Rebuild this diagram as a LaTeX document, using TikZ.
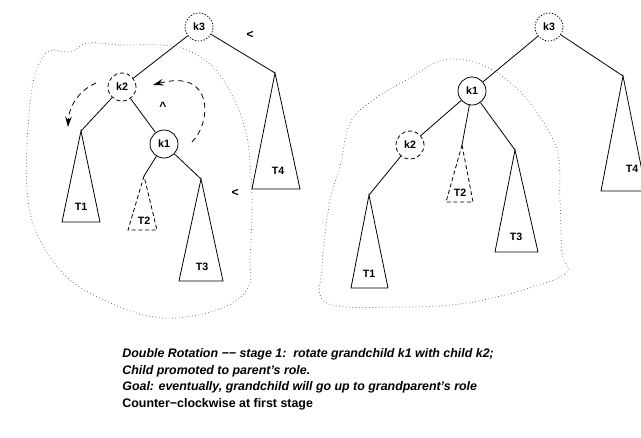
\documentclass[tikz,border=0pt]{standalone}
\usepackage{fontspec}
\setmainfont{Liberation Sans}
\usetikzlibrary{arrows.meta}
\begin{document}
\begin{tikzpicture}[x=0.75pt,y=-0.75pt,
  line width=0.6pt,
  every node/.style={font=\bfseries\fontsize{8}{9.5}\selectfont},
  keynode/.style={circle,draw,minimum size=21pt,inner sep=0pt},
  dottedkey/.style={keynode,dash pattern=on 1pt off 1.2pt},
  dashedkey/.style={keynode,dash pattern=on 3pt off 2pt},
  solidkey/.style={keynode},
  subtree/.style={draw,line join=miter},
  hollowtree/.style={draw,dash pattern=on 3pt off 2pt},
  region/.style={draw=black!70,dotted,line width=0.5pt},
  turn/.style={draw,dash pattern=on 4pt off 3pt,-{Stealth[length=8pt,width=5pt,inset=3pt]}},
  ordersign/.style={font=\bfseries\fontsize{9}{10}\selectfont},
  caption/.style={anchor=west,inner sep=0pt,font=\bfseries\itshape\fontsize{9.3}{11}\selectfont},
]
\useasboundingbox (0,0) rectangle (641,437);

% ---------- before the rotation ----------
\draw[region] plot[smooth cycle,tension=0.6] coordinates {
  (88,43) (120,45) (160,45) (187,50) (213,67) (233,97) (247,137)
  (252,200) (250,260) (250,283) (237,300) (207,313) (163,318)
  (120,307) (70,280) (40,240) (28,200) (27,143) (33,83) (43,57)
  (53,50) (70,52)};

\node[dottedkey] (k3a) at (199,27) {k3};
\node[dashedkey] (k2a) at (122,87) {k2};
\node[solidkey]  (k1a) at (164,144) {k1};

\coordinate (t1a) at (81,131);
\coordinate (t2a) at (144,176);
\coordinate (t3a) at (201,179);
\coordinate (t4a) at (275,73);

\draw[subtree] (t1a) -- (62,222) -- (100,222) -- cycle;
\draw[hollowtree] (t2a) -- (128,230) -- (157,230) -- cycle;
\draw[subtree] (t3a) -- (179,281) -- (223,281) -- cycle;
\draw[subtree] (t4a) -- (252,189) -- (300,189) -- cycle;

\node (T1a) at (81,207) {T1};
\node (T2a) at (144,221) {T2};
\node (T3a) at (202,267) {T3};
\node (T4a) at (278,171) {T4};

\draw (k3a) -- (k2a);
\draw (k3a) -- (t4a);
\draw (k2a) -- (t1a);
\draw (k2a) -- (k1a);
\draw (k1a) -- (t2a);
\draw (k1a) -- (t3a);

\node[ordersign] (lt1) at (250,35) {<};
\node[ordersign] (lt2) at (235,193) {<};
\node[ordersign] (up)  at (163,106) {\textasciicircum};

\coordinate (ccwA) at (96,83);
\coordinate (ccwB) at (68,127);
\coordinate (ccwC) at (192,142);
\coordinate (ccwD) at (153,85);
\draw[turn] (ccwA) .. controls (80,90) and (69,105) .. (ccwB);
\draw[turn] (ccwC) .. controls (212,122) and (214,68) .. (ccwD);

% ---------- after the rotation ----------
\draw[region] plot[smooth cycle,tension=0.6] coordinates {
  (410,78) (443,60) (477,63) (507,80) (533,107) (557,150) (560,200)
  (562,253) (567,272) (533,287) (467,303) (400,307) (327,303)
  (322,267) (330,200) (340,167) (350,123) (373,100)};

\node[dottedkey] (k3b) at (549,27) {k3};
\node[solidkey]  (k1b) at (472,91) {k1};
\node[dashedkey] (k2b) at (410,145) {k2};

\coordinate (t1b) at (369,195);
\coordinate (t2b) at (462,145);
\coordinate (t3b) at (515,150);
\coordinate (t4b) at (623,76);

\draw[subtree] (t1b) -- (351,288) -- (388,288) -- cycle;
\draw[hollowtree] (t2b) -- (446,202) -- (473,202) -- cycle;
\draw[subtree] (t3b) -- (495,252) -- (538,252) -- cycle;
\draw[subtree] (t4b) -- (601,191) -- (646,191) -- cycle;

\node (T1b) at (369,274) {T1};
\node (T2b) at (460,193) {T2};
\node (T3b) at (516,237) {T3};
\node (T4b) at (632,169) {T4};

\draw (k3b) -- (k1b);
\draw (k3b) -- (t4b);
\draw (k1b) -- (k2b);
\draw (k1b) -- (t2b);
\draw (k1b) -- (t3b);
\draw (k2b) -- (t1b);

% ---------- notes ----------
\node[caption] (n1) at (122,354) {Double Rotation −− stage 1:\ \ rotate grandchild k1 with child k2;};
\node[caption] (n2) at (122,371) {Child promoted to parent’s role.};
\node[caption] (n3) at (122,387) {Goal: eventually, grandchild will go up to grandparent’s role};
\node[caption,font=\bfseries\fontsize{9.3}{11}\selectfont] (n4) at (122,404) {Counter−clockwise at first stage};
\end{tikzpicture}
\end{document}
